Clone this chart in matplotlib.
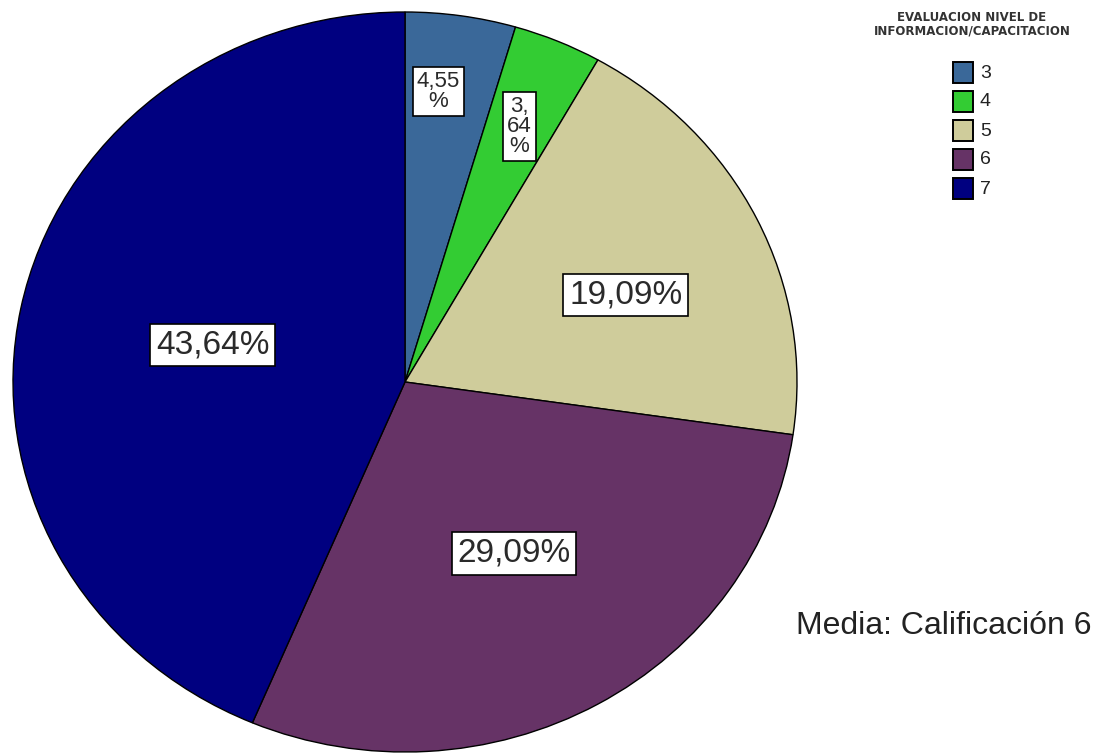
import matplotlib
matplotlib.use("Agg")
import matplotlib.pyplot as plt
from matplotlib.patches import Rectangle
import numpy as np

categories = ["3", "4", "5", "6", "7"]
percentages = [4.55, 3.64, 19.09, 29.09, 43.64]
colors = ["#3a6899", "#33cc33", "#cfcc9b", "#663366", "#000080"]
legend_title = "EVALUACION NIVEL DE\nINFORMACION/CAPACITACION"
note_text = "Media: Calificación 6"

W, H = 1105, 754
fig = plt.figure(figsize=(W / 100, H / 100), dpi=100)
fig.patch.set_facecolor("white")

# pie axes (pixel box of the ellipse)
left, right, top, bottom = 13, 797, 12, 752
ax = fig.add_axes([left / W, 1 - bottom / H, (right - left) / W, (bottom - top) / H])
wedges, _ = ax.pie(percentages, colors=colors, startangle=90, counterclock=False,
                   radius=1.0, wedgeprops=dict(edgecolor="black", linewidth=1.0))
ax.set_xlim(-1, 1)
ax.set_ylim(-1, 1)
ax.set_aspect("auto")
ax.axis("off")

font = "Liberation Sans"
label_r = [0.79, 0.75, 0.61, 0.54, 0.50]
label_dang = [2.0, 0.0, -3.5, 1.5, 0.0]
label_fs = [16, 16, 24, 24, 24]
def fmt(i, v):
    s = f"{v:.2f}".replace(".", ",")
    if i == 0:
        return s + "\n%"
    if i == 1:
        a, b = s.split(",")
        return a + ",\n" + b + "\n%"
    return s + "%"

for i, (w, v) in enumerate(zip(wedges, percentages)):
    ang = np.deg2rad((w.theta1 + w.theta2) / 2 + label_dang[i])
    x, y = label_r[i] * np.cos(ang), label_r[i] * np.sin(ang)
    ax.text(x, y, fmt(i, v), ha="center", va="center", fontsize=label_fs[i],
            family=font, color="#2a2a2a", linespacing=0.95,
            bbox=dict(boxstyle="square,pad=0.17", facecolor="white", edgecolor="black", linewidth=1.2))

# overlay in pixel coordinates for legend and note
ov = fig.add_axes([0, 0, 1, 1])
ov.set_xlim(0, W)
ov.set_ylim(H, 0)
ov.axis("off")
ov.patch.set_alpha(0)

ov.text(972, 24, legend_title, ha="center", va="center", fontsize=8.5,
        family="DejaVu Sans", fontweight="bold", color="#333333", linespacing=1.05)
y0, dy = 72, 29
for i, (c, col) in enumerate(zip(categories, colors)):
    yy = y0 + i * dy
    ov.add_patch(Rectangle((953, yy - 10), 20, 21, facecolor=col, edgecolor="black", linewidth=1.4))
    ov.text(980, yy + 1, c, ha="left", va="center", fontsize=14, family=font, color="#222222")

ov.text(796, 626, note_text, ha="left", va="center", fontsize=23, family=font, color="#222222")

fig.savefig("out.png", dpi=100, facecolor="white")
